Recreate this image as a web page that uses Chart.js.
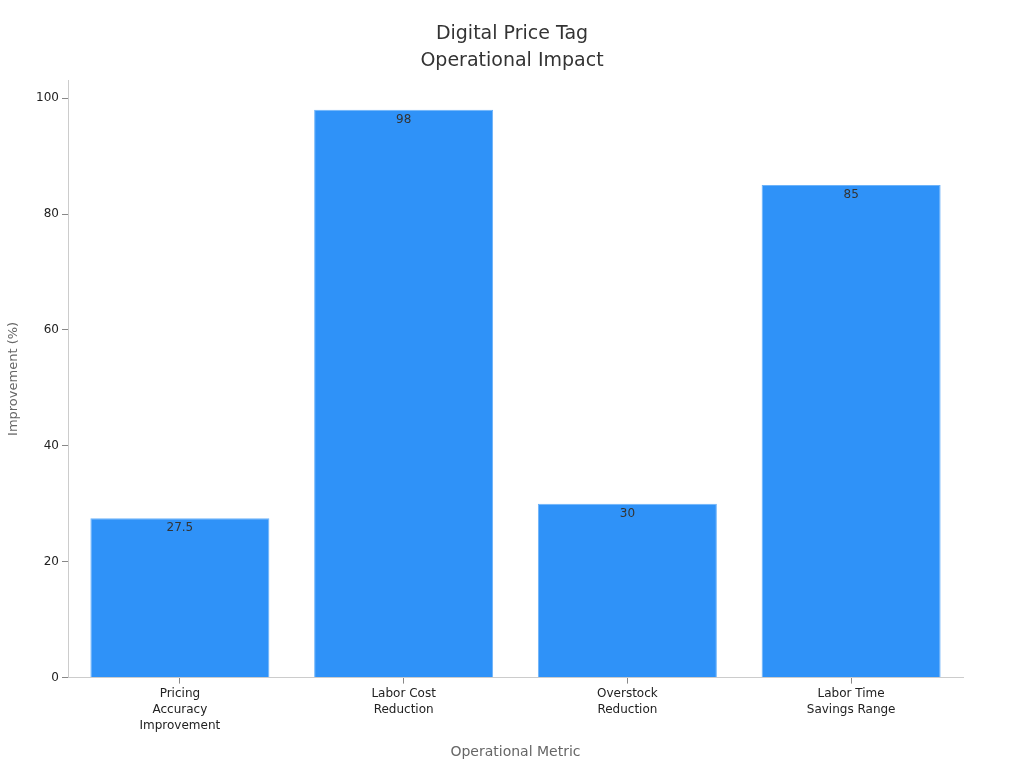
<!DOCTYPE html>
<html>
<head>
<meta charset="utf-8">
<title>Digital Price Tag Operational Impact</title>
<script src="https://cdn.jsdelivr.net/npm/chart.js@4.4.1/dist/chart.umd.min.js"></script>
<style>
  html, body { margin: 0; padding: 0; background: #fff; }
  #wrap { width: 1024px; height: 768px; }
</style>
</head>
<body>
<div id="wrap"><canvas id="chart" width="1024" height="768"></canvas></div>
<script>
  // chart data
  const categories = [
    ["Pricing", "Accuracy", "Improvement"],
    ["Labor Cost", "Reduction"],
    ["Overstock", "Reduction"],
    ["Labor Time", "Savings Range"],
  ];
  const improvement = [27.5, 98, 30, 85];
  const yTicks = [0, 20, 40, 60, 80, 100];

  const FONT = "'DejaVu Sans', sans-serif";

  // value labels drawn just inside the top of each bar
  const barLabels = {
    id: "barLabels",
    afterDatasetsDraw(chart) {
      const ctx = chart.ctx;
      const meta = chart.getDatasetMeta(0);
      ctx.save();
      ctx.font = "12px " + FONT;
      ctx.fillStyle = "#333333";
      ctx.textAlign = "center";
      ctx.textBaseline = "top";
      meta.data.forEach((bar, i) => {
        ctx.fillText(String(improvement[i]), bar.x, bar.y + 4);
      });
      ctx.restore();
    },
  };

  new Chart(document.getElementById("chart").getContext("2d"), {
    type: "bar",
    data: {
      labels: categories,
      datasets: [
        {
          label: "Improvement (%)",
          data: improvement,
          backgroundColor: "#2f92f8",
          borderColor: "#6cb3fa",
          borderWidth: 1,
          categoryPercentage: 0.8,
          barPercentage: 1.0,
        },
      ],
    },
    options: {
      responsive: false,
      animation: false,
      layout: { padding: { left: 0, right: 0, top: 0, bottom: 7 } },
      plugins: {
        legend: { display: false },
        tooltip: { enabled: false },
        title: {
          display: true,
          text: ["Digital Price Tag", "Operational Impact"],
          color: "#333333",
          font: { family: FONT, size: 19, weight: "normal", lineHeight: 1.4 },
          padding: { top: 21, bottom: 6 },
        },
      },
      scales: {
        x: {
          grid: { display: true, offset: false, drawOnChartArea: false, tickLength: 6, tickColor: "#888888" },
          border: { color: "#cccccc" },
          ticks: { color: "#222222", font: { family: FONT, size: 12, lineHeight: 1.35 }, padding: 2 },
          title: {
            display: true,
            text: "Operational Metric",
            color: "#666666",
            font: { family: FONT, size: 14 },
            padding: { top: 8, bottom: 0 },
          },
        },
        y: {
          min: 0,
          max: 103.1,
          afterBuildTicks(scale) {
            scale.ticks = yTicks.map((v) => ({ value: v }));
          },
          afterFit(scale) {
            scale.width = 68;
          },
          grid: { display: true, drawOnChartArea: false, tickLength: 6, tickColor: "#888888" },
          border: { color: "#cccccc" },
          ticks: { color: "#222222", font: { family: FONT, size: 12 }, padding: 3 },
          title: {
            display: true,
            text: "Improvement (%)",
            color: "#666666",
            font: { family: FONT, size: 13 },
            padding: { top: 6, bottom: 4 },
          },
        },
        // empty right-hand gutter so the title stays centred on the page
        gutter: {
          type: "linear",
          position: "right",
          display: true,
          grid: { display: false },
          border: { display: false },
          ticks: { display: false },
          afterFit(scale) {
            scale.width = 61;
          },
        },
      },
    },
    plugins: [barLabels],
  });
</script>
</body>
</html>
